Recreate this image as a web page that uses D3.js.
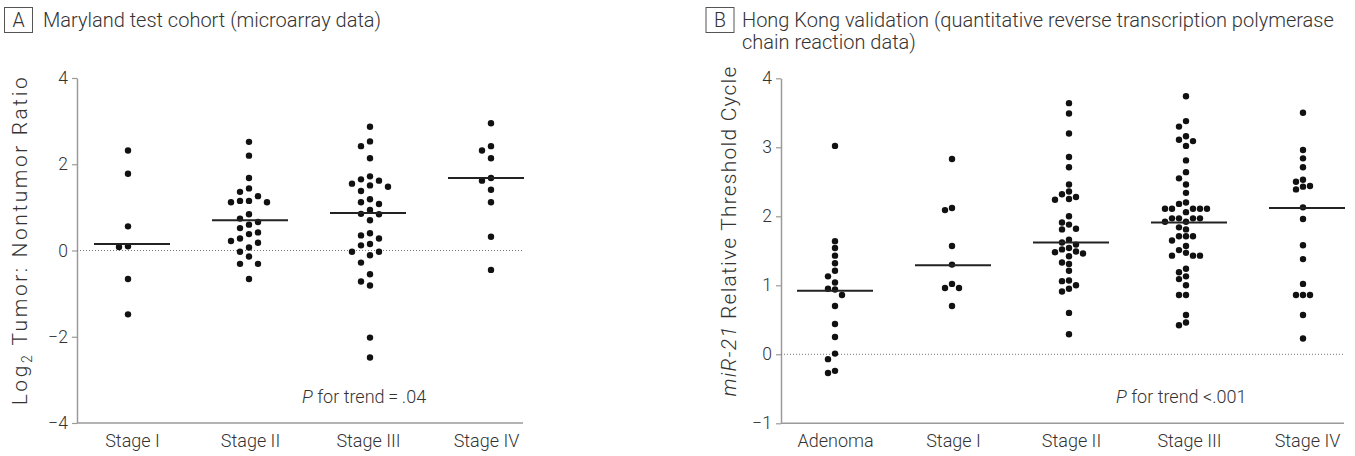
<!DOCTYPE html>
<html>
<head>
<meta charset="utf-8">
<script src="https://cdn.jsdelivr.net/npm/d3@7"></script>
<style>
  body { margin: 0; background: #fff; }
  svg text { font-family: Roboto, "Liberation Sans", Arial, sans-serif; font-weight: 300; fill: #333; }
</style>
</head>
<body>
<div id="chart"></div>
<script>
// ---- Panel A: Maryland test cohort ----
const catsA = ["Stage I", "Stage II", "Stage III", "Stage IV"];
const stageI_A = [2.32, 1.78, 0.56, 0.10, 0.08, -0.66, -1.48];
const stageII_A = [2.52, 2.20, 1.68, 1.44, 1.36, 1.26, 1.15, 1.12, 1.12, 1.15, 0.84, 0.74, 0.66,
  0.60, 0.52, 0.42, 0.38, 0.28, 0.22, 0.18, 0.07, -0.03, -0.14, -0.31, -0.31, -0.66];
const stageIII_A = [2.87, 2.53, 2.42, 2.14, 1.72, 1.65, 1.62, 1.55, 1.51, 1.48, 1.38, 1.19, 1.12,
  1.08, 0.94, 0.85, 0.84, 0.70, 0.40, 0.35, 0.28, 0.15, 0.12, -0.03, -0.03, -0.11, -0.28, -0.55,
  -0.72, -0.81, -2.02, -2.48];
const stageIV_A = [2.95, 2.42, 2.32, 2.14, 1.68, 1.62, 1.41, 1.12, 0.32, -0.45];
const mediansA = [0.15, 0.70, 0.87, 1.68];
const ticksA = [-4, -2, 0, 2, 4];

// ---- Panel B: Hong Kong validation ----
const catsB = ["Adenoma", "Stage I", "Stage II", "Stage III", "Stage IV"];
const adenoma_B = [3.02, 1.64, 1.54, 1.43, 1.32, 1.21, 1.13, 1.04, 0.95, 0.94, 0.86, 0.70, 0.44,
  0.25, 0.01, -0.07, -0.24, -0.27];
const stageI_B = [2.83, 2.12, 2.09, 1.57, 1.30, 1.02, 0.96, 0.96, 0.70];
const stageII_B = [3.64, 3.49, 3.20, 2.86, 2.71, 2.46, 2.36, 2.32, 2.28, 2.25, 2.24, 2.00, 1.91,
  1.88, 1.82, 1.81, 1.66, 1.62, 1.59, 1.54, 1.52, 1.49, 1.48, 1.46, 1.42, 1.33, 1.31, 1.21, 1.07,
  1.06, 1.00, 0.95, 0.91, 0.60, 0.29];
const stageIII_B = [3.74, 3.38, 3.30, 3.16, 3.11, 3.09, 3.02, 2.81, 2.64, 2.55, 2.46, 2.34, 2.20,
  2.18, 2.11, 2.11, 2.11, 2.11, 2.11, 2.06, 1.97, 1.97, 1.97, 1.97, 1.92, 1.92, 1.84, 1.81, 1.71,
  1.71, 1.71, 1.65, 1.57, 1.51, 1.47, 1.43, 1.43, 1.43, 1.24, 1.19, 1.13, 1.09, 1.00, 0.86, 0.86,
  0.57, 0.46, 0.42];
const stageIV_B = [3.50, 2.96, 2.84, 2.71, 2.53, 2.50, 2.44, 2.43, 2.39, 2.13, 1.96, 1.58, 1.38,
  1.02, 0.86, 0.86, 0.86, 0.57, 0.23];
const mediansB = [0.92, 1.29, 1.62, 1.91, 2.12];
const ticksB = [-1, 0, 1, 2, 3, 4];

const width = 1355, height = 456;

const svg = d3.select("#chart").append("svg")
  .attr("width", width)
  .attr("height", height);

// simple column-scatter layout: put each dot in the nearest free column
function swarm(vals, y, xc, step) {
  const pts = vals.map(v => ({ v, py: y(v) })).sort((a, b) => a.py - b.py);
  const placed = [];
  pts.forEach(p => {
    for (let k = 0; k < 20; k++) {
      const offs = k === 0 ? [0] : [-k, k];
      const o = offs.find(o => placed.every(q => Math.hypot((q.o - o) * step, q.py - p.py) >= step * 0.98));
      if (o !== undefined) { p.o = o; break; }
    }
    placed.push(p);
  });
  return pts.map(p => ({ v: p.v, px: xc + p.o * step, py: p.py }));
}

function drawPanel(p) {
  const y = d3.scaleLinear().domain(p.yDomain).range([p.bottom, p.top]);
  const x = d3.scalePoint().domain(p.cats).range(p.labelRange);
  const xDot = d3.scalePoint().domain(p.cats).range(p.dotRange);
  const g = svg.append("g");

  // y axis
  const ga = g.append("g")
    .attr("transform", `translate(${p.left},0)`)
    .call(d3.axisLeft(y).tickValues(p.ticks).tickSize(5).tickSizeOuter(0).tickPadding(4)
      .tickFormat(d => d < 0 ? "\u2212" + Math.abs(d) : d));
  ga.select(".domain").attr("stroke", "#9a9a9a").attr("stroke-width", 1.5);
  ga.selectAll(".tick line").attr("stroke", "#9a9a9a").attr("stroke-width", 1.2);
  ga.selectAll(".tick text").attr("font-family", null).style("font-size", "17.5px");

  // x axis baseline + labels
  g.append("line")
    .attr("x1", p.left).attr("x2", p.right)
    .attr("y1", y(p.yDomain[0])).attr("y2", y(p.yDomain[0]))
    .attr("stroke", "#9a9a9a").attr("stroke-width", 1.5);
  const gx = g.append("g")
    .attr("transform", `translate(0,${y(p.yDomain[0])})`)
    .call(d3.axisBottom(x).tickSize(0).tickPadding(11));
  gx.select(".domain").remove();
  gx.selectAll(".tick text").attr("font-family", null).style("font-size", "18px");

  // zero reference line
  g.append("line")
    .attr("x1", p.left).attr("x2", p.right)
    .attr("y1", y(0)).attr("y2", y(0))
    .attr("stroke", "#777").attr("stroke-width", 1)
    .attr("stroke-dasharray", "1,2");

  // dots
  p.series.forEach((vals, i) => {
    const pts = swarm(vals, y, xDot(p.cats[i]), p.step);
    g.append("g").selectAll("circle")
      .data(pts)
      .enter().append("circle")
      .attr("cx", d => d.px)
      .attr("cy", d => d.py)
      .attr("r", 3.2)
      .attr("fill", "#111");
  });

  // median lines
  g.append("g").selectAll("line")
    .data(p.medians)
    .enter().append("line")
    .attr("x1", (d, i) => x(p.cats[i]) - 38)
    .attr("x2", (d, i) => x(p.cats[i]) + 38)
    .attr("y1", d => y(d)).attr("y2", d => y(d))
    .attr("stroke", "#222").attr("stroke-width", 2);

  // P for trend
  const pt = g.append("text")
    .attr("x", p.pText[0]).attr("y", p.pText[1])
    .style("font-size", "18px");
  pt.append("tspan").style("font-style", "italic").text("P");
  pt.append("tspan").text(p.pLabel);

  return { x, y };
}

drawPanel({
  cats: catsA, series: [stageI_A, stageII_A, stageIII_A, stageIV_A], medians: mediansA,
  ticks: ticksA, yDomain: [-4, 4], top: 78, bottom: 423, left: 77, right: 523,
  labelRange: [132, 486], dotRange: [128, 491], step: 9,
  pText: [302, 403], pLabel: " for trend\u2009=\u2009.04"
});

drawPanel({
  cats: catsB, series: [adenoma_B, stageI_B, stageII_B, stageIII_B, stageIV_B], medians: mediansB,
  ticks: ticksB, yDomain: [-1, 4], top: 78.3, bottom: 423.3, left: 781, right: 1344,
  labelRange: [835, 1307], dotRange: [835, 1303], step: 7,
  pText: [1116, 403], pLabel: " for trend <.001"
});

// panel titles
function titleBox(letter, bx, lines, tx) {
  svg.append("rect")
    .attr("x", bx).attr("y", 7.5).attr("width", 28).attr("height", 25)
    .attr("fill", "none").attr("stroke", "#555").attr("stroke-width", 1);
  svg.append("text")
    .attr("x", bx + 14).attr("y", 26.5)
    .attr("text-anchor", "middle")
    .style("font-size", "19.5px")
    .text(letter);
  lines.forEach((t, i) => {
    svg.append("text")
      .attr("x", tx).attr("y", 26.5 + i * 22)
      .style("font-size", "20px")
      .text(t);
  });
}
titleBox("A", 4.5, ["Maryland test cohort (microarray data)"], 43);
titleBox("B", 706, ["Hong Kong validation (quantitative reverse transcription polymerase",
  "chain reaction data)"], 742);

// stretch a rotated axis title to the length it has in the figure
function spreadTo(sel, target) {
  const n = sel.text().length;
  const natural = sel.node().getComputedTextLength();
  sel.style("letter-spacing", ((target - natural) / (n - 1)) + "px");
}

// y axis titles
const ylabA = svg.append("text")
  .attr("transform", "translate(27,240) rotate(-90)")
  .attr("text-anchor", "middle")
  .style("font-size", "21px");
ylabA.append("tspan").text("Log");
ylabA.append("tspan").attr("dy", 5).style("font-size", "14px").text("2");
ylabA.append("tspan").attr("dy", -5).text(" Tumor: Nontumor Ratio");
spreadTo(ylabA, 328);

const ylabB = svg.append("text")
  .attr("transform", "translate(736,231) rotate(-90)")
  .attr("text-anchor", "middle")
  .style("font-size", "21px");
ylabB.append("tspan").style("font-style", "italic").text("miR-21");
ylabB.append("tspan").text(" Relative Threshold Cycle");
spreadTo(ylabB, 330);
</script>
</body>
</html>
